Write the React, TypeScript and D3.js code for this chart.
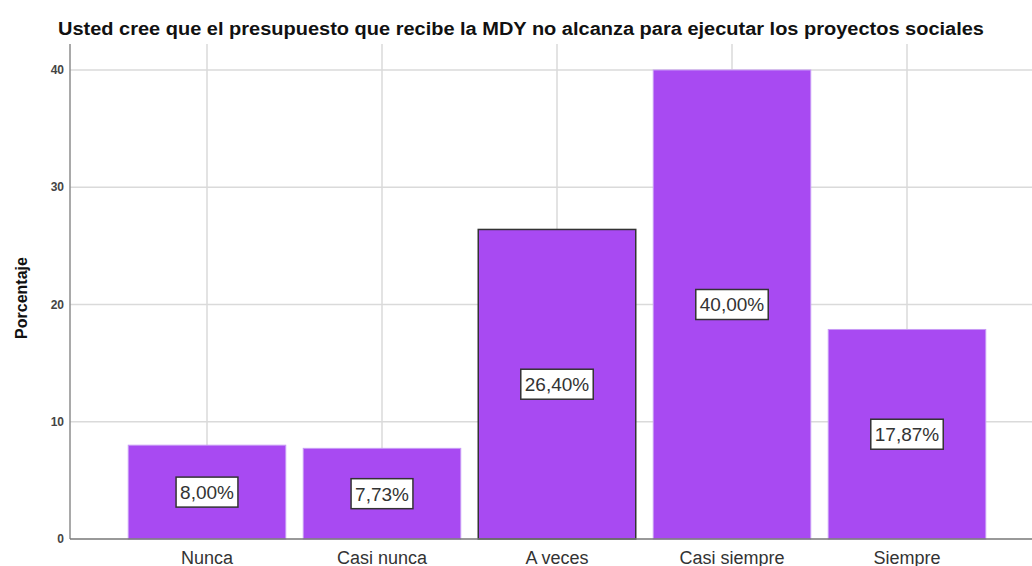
import React, { useEffect, useRef } from "react";
import * as d3 from "d3";

const title =
  "Usted cree que el presupuesto que recibe la MDY no alcanza para ejecutar los proyectos sociales";
const categories = ["Nunca", "Casi nunca", "A veces", "Casi siempre", "Siempre"];
const percentages = [8.0, 7.73, 26.4, 40.0, 17.87];
const yTicks = [0, 10, 20, 30, 40];
const yLabel = "Porcentaje";

const fmt = (v: number) => v.toFixed(2).replace(".", ",") + "%";

export default function App() {
  const ref = useRef<SVGSVGElement>(null);

  useEffect(() => {
    const width = 1032,
      height = 566;
    const margin = { left: 70, top: 44, bottom: 539 };

    const svg = d3.select(ref.current);
    svg.selectAll("*").remove();
    svg.attr("width", width).attr("height", height);

    svg.append("rect").attr("width", width).attr("height", height).attr("fill", "#fff");

    const x = d3
      .scaleBand()
      .domain(categories)
      .range([119.5, 994.5])
      .paddingInner(0.1)
      .paddingOuter(0.05);

    const y = d3.scaleLinear().domain([0, 40]).range([margin.bottom, 70]);

    // gridlines
    const grid = svg.append("g").attr("stroke", "#dadada").attr("stroke-width", 1.5);
    grid
      .selectAll("line.h")
      .data(yTicks.filter((t) => t > 0))
      .enter()
      .append("line")
      .attr("x1", margin.left)
      .attr("x2", width)
      .attr("y1", (d) => y(d))
      .attr("y2", (d) => y(d));
    grid
      .selectAll("line.v")
      .data(categories)
      .enter()
      .append("line")
      .attr("x1", (d) => x(d)! + x.bandwidth() / 2)
      .attr("x2", (d) => x(d)! + x.bandwidth() / 2)
      .attr("y1", margin.top)
      .attr("y2", margin.bottom);

    // bars
    svg
      .selectAll("rect.bar")
      .data(percentages)
      .enter()
      .append("rect")
      .attr("class", "bar")
      .attr("x", (d, i) => x(categories[i])!)
      .attr("y", (d) => y(d))
      .attr("width", x.bandwidth())
      .attr("height", (d) => y(0) - y(d))
      .attr("fill", "#a84af2")
      .attr("stroke", (d, i) => (i === 2 ? "#333" : "#c79af5"))
      .attr("stroke-width", (d, i) => (i === 2 ? 1.5 : 1));

    // axes
    svg
      .append("line")
      .attr("x1", margin.left)
      .attr("x2", margin.left)
      .attr("y1", margin.top)
      .attr("y2", margin.bottom)
      .attr("stroke", "#8c8c8c")
      .attr("stroke-width", 1.5);
    svg
      .append("line")
      .attr("x1", margin.left)
      .attr("x2", width)
      .attr("y1", margin.bottom)
      .attr("y2", margin.bottom)
      .attr("stroke", "#777")
      .attr("stroke-width", 1.5);

    svg
      .selectAll("text.tick")
      .data(yTicks)
      .enter()
      .append("text")
      .attr("x", 64)
      .attr("y", (d) => y(d))
      .attr("dy", "0.35em")
      .attr("text-anchor", "end")
      .attr("font-family", "Liberation Sans, Arial, sans-serif")
      .attr("font-size", 12)
      .attr("font-weight", 600)
      .attr("fill", "#444")
      .text((d) => d);

    svg
      .selectAll("text.cat")
      .data(categories)
      .enter()
      .append("text")
      .attr("x", (d) => x(d)! + x.bandwidth() / 2)
      .attr("y", 564)
      .attr("text-anchor", "middle")
      .attr("font-family", "Liberation Sans, Arial, sans-serif")
      .attr("font-size", 18)
      .attr("fill", "#333")
      .text((d) => d);

    svg
      .append("text")
      .attr("transform", "translate(27,298) rotate(-90)")
      .attr("text-anchor", "middle")
      .attr("font-family", "Liberation Sans, Arial, sans-serif")
      .attr("font-weight", "bold")
      .attr("font-size", 16)
      .attr("fill", "#111")
      .text(yLabel);

    svg
      .append("text")
      .attr("x", 521)
      .attr("y", 35)
      .attr("text-anchor", "middle")
      .attr("font-family", "Liberation Sans, Arial, sans-serif")
      .attr("font-weight", "bold")
      .attr("font-size", 18)
      .attr("textLength", 926)
      .attr("lengthAdjust", "spacingAndGlyphs")
      .attr("fill", "#111")
      .text(title);

    // value labels
    const labels = svg
      .selectAll("g.lbl")
      .data(percentages)
      .enter()
      .append("g")
      .attr(
        "transform",
        (d, i) => `translate(${x(categories[i])! + x.bandwidth() / 2},${y(d / 2)})`
      );
    const boxes = labels
      .append("rect")
      .attr("fill", "#fff")
      .attr("stroke", "#333")
      .attr("stroke-width", 1.5);
    const texts = labels
      .append("text")
      .attr("text-anchor", "middle")
      .attr("dy", "0.36em")
      .attr("font-family", "Liberation Sans, Arial, sans-serif")
      .attr("font-size", 19)
      .attr("fill", "#333")
      .text((d) => fmt(d));
    texts.each(function (d, i) {
      const w = (this as SVGTextElement).getComputedTextLength() + 8;
      d3.select(boxes.nodes()[i])
        .attr("x", -w / 2)
        .attr("y", -15)
        .attr("width", w)
        .attr("height", 30);
    });
  }, []);

  return (
    <div style={{ position: "fixed", left: 0, top: 0 }}>
      <svg ref={ref} style={{ display: "block" }} />
    </div>
  );
}
